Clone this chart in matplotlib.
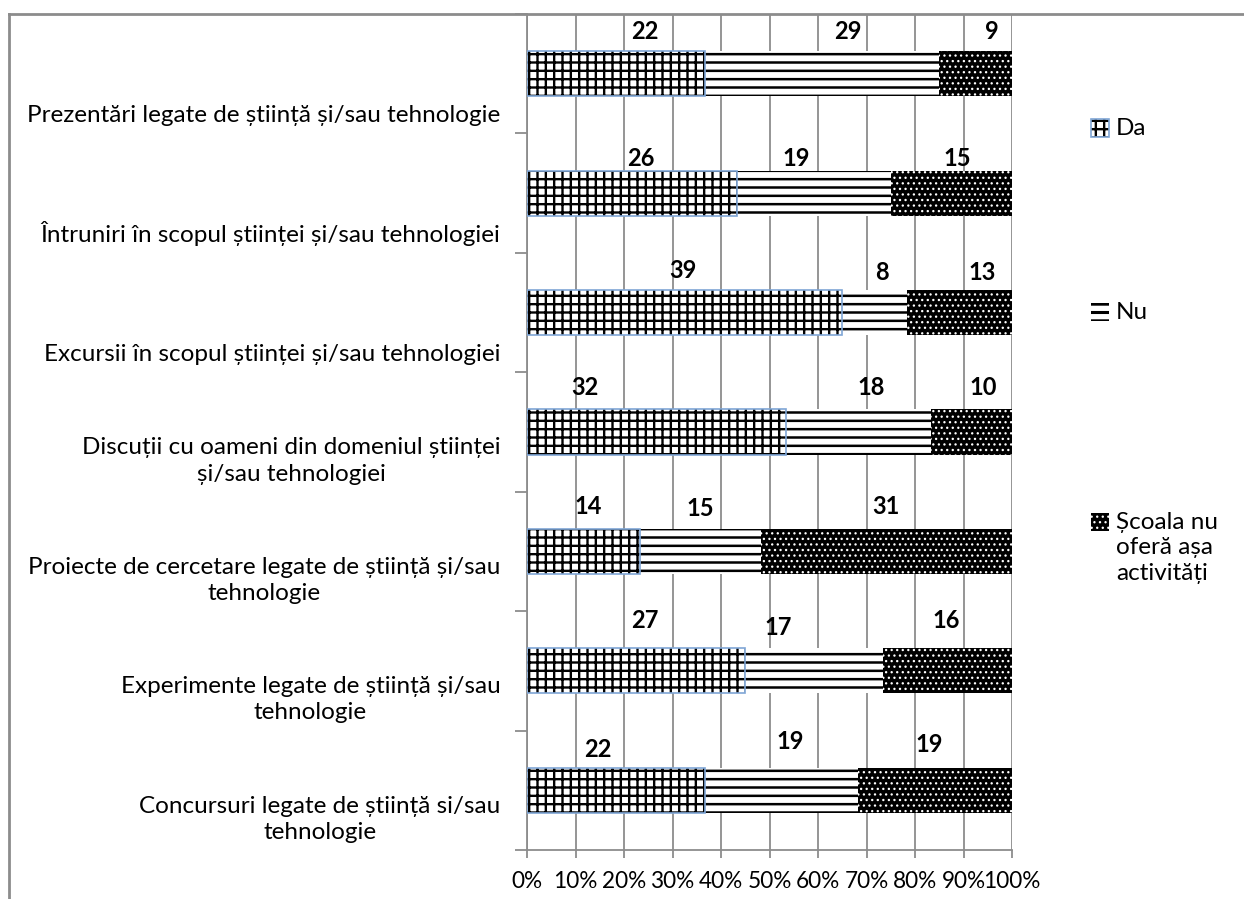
import matplotlib
matplotlib.use("Agg")
import matplotlib.pyplot as plt
import numpy as np
from matplotlib.patches import Rectangle
from matplotlib.lines import Line2D

plt.rcParams['font.family'] = ['Lato', 'DejaVu Sans']
plt.rcParams['hatch.linewidth'] = 1.6

categories = [
    "Prezentări legate de știință și/sau tehnologie",
    "Întruniri în scopul științei și/sau tehnologiei",
    "Excursii în scopul științei și/sau tehnologiei",
    "Discuții cu oameni din domeniul științei\nși/sau tehnologiei",
    "Proiecte de cercetare legate de știință și/sau\ntehnologie",
    "Experimente legate de știință și/sau\ntehnologie",
    "Concursuri legate de știință si/sau\ntehnologie",
]
series_names = ["Da", "Nu", "Școala nu\noferă așa\nactivități"]
da = [22, 26, 39, 32, 14, 27, 22]
nu = [29, 19, 8, 18, 15, 17, 19]
nu_ofera = [9, 15, 13, 10, 31, 16, 19]
xtick_labels = ["0%", "10%", "20%", "30%", "40%", "50%", "60%", "70%", "80%", "90%", "100%"]

# label layout (offsets from segment centre, in % points / category units)
lab_dx = [[6.0, 5.4, 3.4], [1.8, -3.7, 1.2], [-0.3, 1.5, 4.6], [-14.7, 2.7, 2.3],
          [0.9, -0.1, -0.2], [1.8, -7.4, -0.3], [-3.7, 1.7, -1.2]]
lab_dy = [[-0.35, -0.35, -0.35], [-0.29, -0.29, -0.29], [-0.35, -0.335, -0.335],
          [-0.37, -0.37, -0.37], [-0.375, -0.36, -0.375], [-0.42, -0.36, -0.42],
          [-0.345, -0.41, -0.385]]

W, H = 1244, 899
fig = plt.figure(figsize=(W / 100, H / 100), dpi=100)
ax = fig.add_axes([527 / W, 1 - 850 / H, (1012 - 527) / W, (850 - 14) / H])

vals = np.array([da, nu, nu_ofera], dtype=float)
tot = vals.sum(axis=0)
pct = vals / tot * 100
y = np.arange(len(categories))
bh = 0.377
gray = "#8c8c8c"
FS = 17.5


def set_hlw(patches, lw):
    for p in patches:
        if hasattr(p, "set_hatch_linewidth"):
            p.set_hatch_linewidth(lw)


left = np.zeros(len(categories))
# Da
b = ax.barh(y, pct[0], left=left, height=bh, color="white", edgecolor="black",
            hatch="++", linewidth=0, zorder=3)
set_hlw(b, 1.7)
ax.barh(y, pct[0], left=left, height=bh, fill=False, edgecolor="#7fa6d6",
        linewidth=1.2, zorder=4)
left = left + pct[0]
# Nu
b = ax.barh(y, pct[1], left=left, height=bh, color="white", edgecolor="black",
            hatch="--", linewidth=0, zorder=3)
set_hlw(b, 1.8)
left = left + pct[1]
# Ex
with plt.rc_context({"hatch.linewidth": 0.9}):
    b = ax.barh(y, pct[2], left=left, height=bh, color="black", edgecolor="white",
                hatch="...", linewidth=0, zorder=3)
set_hlw(b, 0.9)

# data labels
starts = np.vstack([np.zeros(len(categories)), pct[0], pct[0] + pct[1]])
for i in range(len(categories)):
    for s in range(3):
        cx = starts[s, i] + pct[s, i] / 2 + lab_dx[i][s]
        ax.text(cx, y[i] + lab_dy[i][s], f"{int(vals[s, i])}", ha="center",
                va="center", fontsize=17, fontweight="bold", zorder=5)

ax.set_xlim(0, 100)
ax.set_ylim(len(categories) - 0.5, -0.5)
ax.set_xticks(np.arange(0, 101, 10))
ax.set_xticklabels(xtick_labels, fontsize=16.3)
ax.set_yticks(np.arange(-0.5, len(categories), 1.0))
ax.set_yticklabels([])
ax.tick_params(axis="x", direction="out", length=6, width=1.3, color=gray, pad=9)
ax.tick_params(axis="y", direction="out", length=9, width=1.3, color=gray)
ax.xaxis.grid(True, color=gray, linewidth=1.3, zorder=0)
ax.set_axisbelow(True)
for side in ["top", "right"]:
    ax.spines[side].set_visible(False)
for side in ["left", "bottom"]:
    ax.spines[side].set_color(gray)
    ax.spines[side].set_linewidth(1.3)

# category labels
for i, c in enumerate(categories):
    ax.text(-5.5, y[i] + 0.44, c, ha="right", va="bottom", multialignment="center",
            fontsize=FS, linespacing=1.3)

# outer chart frame
fig.add_artist(Line2D([8.5 / W, 8.5 / W], [0, 1 - 13.5 / H], transform=fig.transFigure,
                      color=gray, linewidth=2))
fig.add_artist(Line2D([8.5 / W, 1], [1 - 13.5 / H, 1 - 13.5 / H], transform=fig.transFigure,
                      color=gray, linewidth=2))

# legend
leg_items = [
    (128, dict(facecolor="white", edgecolor="black", hatch="++", linewidth=0), "#7fa6d6", 1.7),
    (312, dict(facecolor="white", edgecolor="black", hatch="--", linewidth=0), None, 2.2),
    (522, dict(facecolor="black", edgecolor="white", hatch="...", linewidth=0), None, 0.9),
]
for (py, kw, border, hlw), name in zip(leg_items, series_names):
    r = Rectangle((1091 / W, 1 - (py + 9) / H), 18 / W, 18 / H, transform=fig.transFigure, **kw)
    set_hlw([r], hlw)
    fig.add_artist(r)
    if border:
        fig.add_artist(Rectangle((1091 / W, 1 - (py + 9) / H), 18 / W, 18 / H,
                                 transform=fig.transFigure, fill=False,
                                 edgecolor=border, linewidth=1.2))
    fig.text(1116 / W, 1 - (py - 10) / H, name, ha="left", va="top", fontsize=FS,
             linespacing=1.25)

fig.savefig("out.png", dpi=100)
